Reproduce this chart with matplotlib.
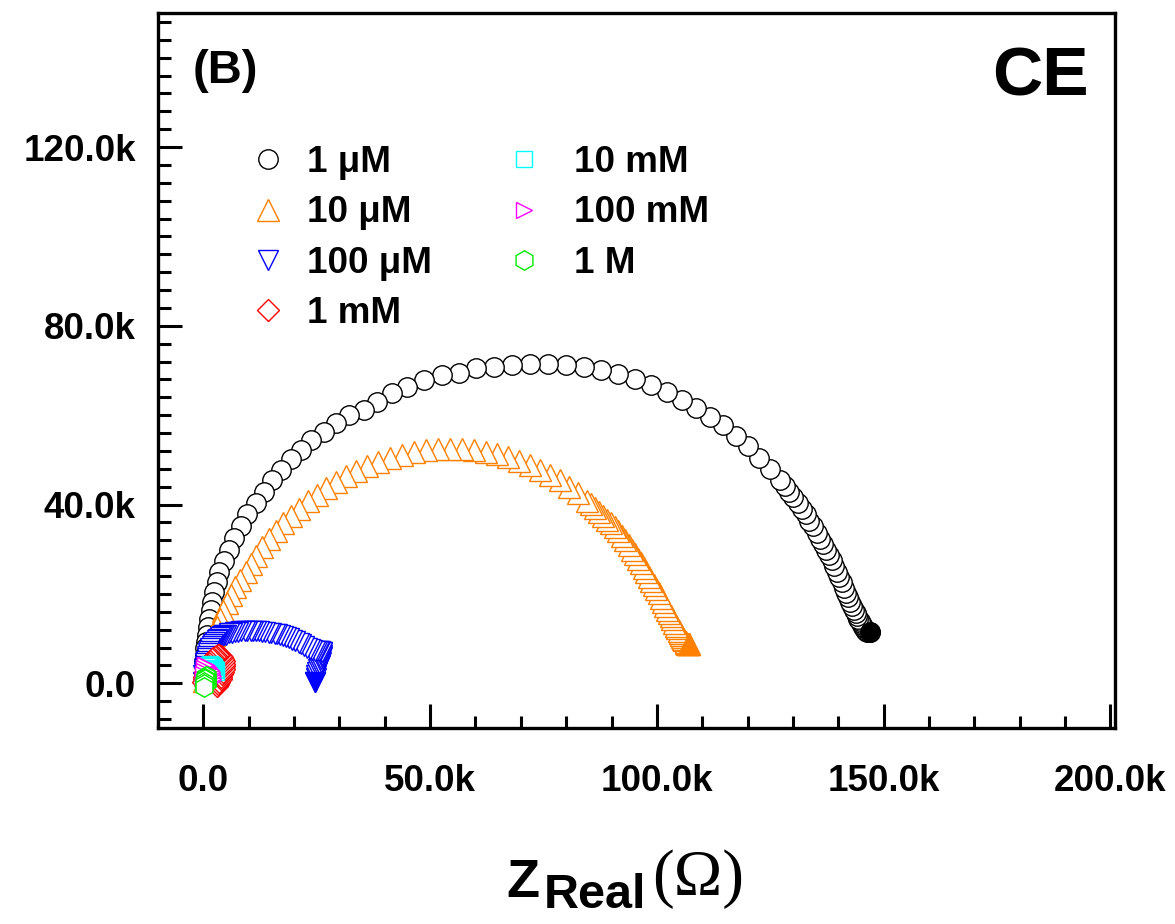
import matplotlib
matplotlib.use("Agg")
import matplotlib.pyplot as plt
from matplotlib.ticker import MultipleLocator, FuncFormatter

plt.rcParams['font.family'] = ['Liberation Sans', 'DejaVu Sans']
plt.rcParams['font.weight'] = 'bold'

# Nyquist data, kOhm, listed from the low-frequency end back to the origin
x_1uM = [147.0, 146.8, 146.6, 146.4, 146.2, 146.0, 145.8, 145.6, 145.4, 145.2,
         145.0, 144.7, 144.4, 144.1, 143.8, 143.4, 143.0, 142.5, 142.1, 141.6,
         141.2, 140.7, 140.2, 139.6, 139.1, 138.5, 137.9, 137.2, 136.6, 135.9,
         135.2, 134.4, 133.6, 132.8, 132.0, 131.1, 130.1, 129.1, 128.2, 127.1,
         124.9, 122.5, 120.0, 117.4, 114.5, 111.7, 108.6, 105.5, 102.2, 98.7,
         95.2, 91.4, 87.7, 83.9, 80.0, 76.0, 72.0, 68.1, 64.1, 60.1,
         56.4, 52.6, 48.7, 44.9, 41.6, 38.3, 35.5, 32.2, 29.3, 26.7,
         23.8, 21.6, 19.4, 17.2, 15.2, 13.4, 11.7, 9.7, 8.4, 6.8,
         5.7, 4.6, 3.5, 2.9, 2.4, 2.0, 1.6, 1.3, 1.0, 0.8,
         0.6, 0.4, 0.3, 0.2]
y_1uM = [11.4, 11.4, 11.4, 11.5, 11.6, 11.8, 12.0, 12.3, 12.6, 13.0,
         13.4, 13.9, 14.4, 15.0, 15.7, 16.5, 17.4, 18.3, 19.3, 20.3,
         21.4, 22.6, 23.8, 25.0, 26.2, 27.5, 28.7, 29.9, 31.1, 32.4,
         33.7, 35.1, 36.4, 37.8, 39.0, 40.4, 41.6, 42.9, 44.2, 45.6,
         48.0, 50.5, 53.0, 55.4, 57.7, 59.7, 61.7, 63.5, 65.3, 66.8,
         68.2, 69.3, 70.2, 70.8, 71.3, 71.5, 71.5, 71.3, 70.8, 70.6,
         69.5, 69.1, 67.9, 66.4, 65.0, 63.0, 61.2, 60.1, 58.3, 56.3,
         54.5, 52.3, 50.1, 47.8, 45.6, 42.9, 40.4, 37.8, 35.1, 32.6,
         29.9, 27.3, 24.8, 22.6, 20.4, 18.3, 16.3, 14.4, 12.6, 10.9,
         9.3, 7.8, 6.4, 5.1]

x_10uM = [107.0, 106.9, 106.7, 106.5, 106.4, 106.0, 105.8, 105.5, 105.3, 105.1,
          104.8, 104.4, 104.1, 103.7, 103.4, 103.1, 102.7, 102.2, 101.8, 101.3,
          100.9, 100.4, 99.9, 99.3, 98.8, 98.2, 97.7, 97.1, 96.5, 95.8,
          95.2, 94.5, 93.8, 93.0, 92.2, 91.4, 90.7, 89.9, 89.0, 88.1,
          87.2, 86.3, 85.5, 84.6,
          82.6, 80.6, 78.6, 76.4, 74.2, 72.0, 69.6, 67.2, 64.8, 62.3,
          59.7, 57.0, 54.4, 51.8, 49.1, 46.5, 43.8, 41.2, 38.5, 36.1,
          33.7, 31.5, 29.3, 27.1, 25.1, 23.1, 21.1, 19.4, 17.6, 16.1,
          14.5, 13.0, 11.7, 10.4, 9.3, 8.1, 7.0, 6.2, 5.3, 4.4,
          3.7, 3.1, 2.4, 2.0, 1.5, 1.1, 0.7, 0.4, 0.2]
y_10uM = [8.7, 8.7, 8.8, 9.0, 9.2, 9.6, 9.9, 10.3, 10.7, 11.2,
          11.7, 12.3, 12.9, 13.6, 14.3, 15.0, 15.7, 16.5, 17.4, 18.3,
          19.2, 20.1, 21.0, 21.9, 22.9, 23.9, 24.9, 25.9, 26.9, 27.9,
          28.9, 29.9, 31.0, 32.0, 33.0, 34.0, 34.9, 35.8, 36.6, 37.5,
          38.4, 39.3, 40.1, 40.9,
          42.5, 44.0, 45.4, 46.7, 47.8, 48.9, 49.8, 50.7, 51.4, 51.8,
          52.3, 52.5, 52.5, 52.5, 52.3, 51.8, 51.2, 50.5, 49.6, 48.7,
          47.6, 46.5, 45.1, 43.8, 42.2, 40.7, 39.1, 37.5, 35.8, 34.0,
          32.2, 30.4, 28.6, 26.8, 25.0, 23.2, 21.5, 19.7, 17.9, 16.1,
          14.3, 12.5, 10.7, 8.9, 7.2, 5.4, 3.6, 1.8, 0.5]

x_100uM = [24.7, 24.8, 24.9, 25.1, 25.3, 25.6, 25.8, 25.9, 26.0, 26.1,
           26.2, 26.2, 26.1, 25.8, 25.5, 25.1, 24.6, 24.0, 23.5, 22.9,
           22.3, 21.6, 21.0, 20.3, 19.6, 18.9, 18.3, 17.6, 17.0, 16.3,
           15.7, 15.0, 14.4, 13.7, 13.0, 12.3, 11.7, 11.0, 10.4, 9.7,
           9.1, 8.4, 7.7, 7.0, 6.3, 5.7, 5.1, 4.6, 4.1, 3.7,
           3.3, 2.9, 2.5, 2.2, 1.8, 1.5, 1.3, 1.1, 0.9, 0.7,
           0.5, 0.4, 0.3, 0.2, 0.1, 0.0, 0.0]
y_100uM = [0.4, 1.1, 1.8, 2.5, 3.1, 3.7, 4.2, 4.8, 5.4, 5.9,
           6.3, 6.9, 7.1, 7.2, 7.2, 7.2, 7.3, 7.4, 7.7, 8.0,
           8.3, 8.7, 9.0, 9.4, 9.8, 10.1, 10.3, 10.5, 10.8, 11.0,
           11.1, 11.2, 11.3, 11.4, 11.5, 11.6, 11.6, 11.6, 11.6, 11.6,
           11.6, 11.6, 11.5, 11.4, 11.3, 11.2, 10.9, 10.7, 10.5, 10.3,
           10.0, 9.6, 9.2, 8.7, 8.3, 7.8, 7.3, 6.7, 6.2, 5.6,
           5.0, 4.5, 3.8, 3.1, 2.5, 1.8, 0.4]

x_1mM = [3.1, 3.3, 3.5, 3.8, 4.0, 4.2, 4.4, 4.5, 4.6, 4.6,
         4.5, 4.3, 4.1, 3.8, 3.5, 3.2, 2.8, 2.5, 2.1, 1.8,
         1.5, 1.2, 1.0, 0.8, 0.6, 0.4, 0.3, 0.2, 0.1, 0.0]
y_1mM = [-0.7, -0.2, 0.3, 0.9, 1.4, 2.0, 2.6, 3.2, 3.8, 4.4,
         5.0, 5.5, 5.9, 6.1, 6.3, 6.3, 6.2, 6.0, 5.7, 5.4,
         5.0, 4.6, 4.1, 3.6, 3.1, 2.6, 2.0, 1.5, 1.0, 0.2]

x_10mM = [2.8, 2.7, 2.6, 2.4, 2.2, 2.0, 1.7, 1.4, 1.2, 1.0,
          0.8, 0.6, 0.5, 0.4, 0.3, 0.2, 0.1, 0.1, 0.0]
y_10mM = [2.5, 2.9, 3.3, 3.6, 3.9, 4.1, 4.2, 4.3, 4.2, 4.0,
          3.8, 3.5, 3.2, 2.9, 2.5, 2.1, 1.8, 1.0, 0.3]

x_100mM = [2.0, 2.1, 2.1, 2.0, 1.8, 1.6, 1.3, 1.0, 0.8, 0.6,
           0.4, 0.3, 0.2, 0.1, 0.0, 0.0]
y_100mM = [0.5, 1.0, 1.6, 2.1, 2.6, 3.0, 3.4, 3.7, 3.9, 4.1,
           4.2, 4.0, 3.5, 2.8, 2.0, 1.0]

x_1M = [0.8, 0.9, 0.9, 0.8, 0.7, 0.6, 0.5, 0.4, 0.3, 0.2, 0.2, 0.2]
y_1M = [0.2, 0.6, 1.0, 1.3, 1.6, 1.7, 1.6, 1.3, 0.9, 0.4, -0.2, -0.9]

labels = ['1 \u03bcM', '10 \u03bcM', '100 \u03bcM', '1 mM', '10 mM', '100 mM', '1 M']
markers = ['o', '^', 'v', 'D', 's', '>', 'h']
sizes = [14, 16, 15, 11.5, 11, 11.5, 14]
colors = ['black', '#FF8000', '#0000FF', '#FF0000', '#00FFFF', '#FF00FF', '#00EE00']
series = [(x_1uM, y_1uM), (x_10uM, y_10uM), (x_100uM, y_100uM), (x_1mM, y_1mM),
          (x_10mM, y_10mM), (x_100mM, y_100mM), (x_1M, y_1M)]

fig = plt.figure(figsize=(11.75, 9.24), dpi=100)
ax = fig.add_axes([158 / 1175, 1 - 728 / 924, (1115 - 158) / 1175, (728 - 13) / 924])

handles = []
for i, ((xs, ys), lab, m, s, c) in enumerate(zip(series, labels, markers, sizes, colors)):
    xo = [v * 1000 for v in xs]
    yo = [v * 1000 for v in ys]
    h, = ax.plot(xo, yo, linestyle='none', marker=m, markersize=s,
                 markerfacecolor='white', markeredgecolor=c,
                 markeredgewidth=1.0, label=lab)
    if i < 3:
        # the piled-up last points look solid in the original
        ax.plot(xo[:1], yo[:1], linestyle='none', marker=m, markersize=s,
                color=c, markeredgewidth=1.0)
    handles.append(h)

ax.set_xlim(-10000, 201000)
ax.set_ylim(-10000, 150000)

fmt = FuncFormatter(lambda v, p: '0.0' if abs(v) < 1 else f'{v / 1000:.1f}k')
ax.xaxis.set_major_locator(MultipleLocator(50000))
ax.xaxis.set_minor_locator(MultipleLocator(10000))
ax.yaxis.set_major_locator(MultipleLocator(40000))
ax.yaxis.set_minor_locator(MultipleLocator(4000))
ax.xaxis.set_major_formatter(fmt)
ax.yaxis.set_major_formatter(fmt)

ax.tick_params(which='both', direction='in', width=2.2, top=False, right=False)
ax.tick_params(which='major', length=17, labelsize=26.5)
ax.tick_params(which='minor', length=9)
ax.tick_params(axis='x', which='major', pad=26)
ax.tick_params(axis='y', which='major', pad=16)
for sp in ax.spines.values():
    sp.set_linewidth(2.4)

# legend split in two columns like the original
leg1 = ax.legend(handles=handles[:4], loc='upper left', bbox_to_anchor=(250 / 1175, 1 - 145 / 924),
                 bbox_transform=fig.transFigure, frameon=False, fontsize=26.5, borderpad=0,
                 handlelength=1.0, handletextpad=0.55, labelspacing=0.42, borderaxespad=0)
ax.add_artist(leg1)
ax.legend(handles=handles[4:], loc='upper left', bbox_to_anchor=(506 / 1175, 1 - 145 / 924),
          bbox_transform=fig.transFigure, frameon=False, fontsize=26.5, borderpad=0,
          handlelength=1.0, handletextpad=0.85, labelspacing=0.42, borderaxespad=0)

ax.text(193 / 1175, 1 - 83 / 924, '(B)', transform=fig.transFigure, fontsize=34,
        fontweight='bold', ha='left', va='baseline')
ax.text(1089 / 1175, 1 - 95 / 924, 'CE', transform=fig.transFigure, fontsize=50,
        fontweight='bold', ha='right', va='baseline')

# x label: Z_Real(Ω)
fig.text(506 / 1175, 1 - 897 / 924, 'Z', fontsize=39, fontweight='bold', va='baseline')
fig.text(544 / 1175, 1 - 908 / 924, 'Real', fontsize=35, fontweight='bold', va='baseline')
fig.text(652 / 1175, 1 - 895 / 924, '(\u03a9)', fontsize=47, fontweight='normal',
         family=['Liberation Serif', 'DejaVu Serif'], va='baseline')

fig.savefig('out.png', dpi=100)
